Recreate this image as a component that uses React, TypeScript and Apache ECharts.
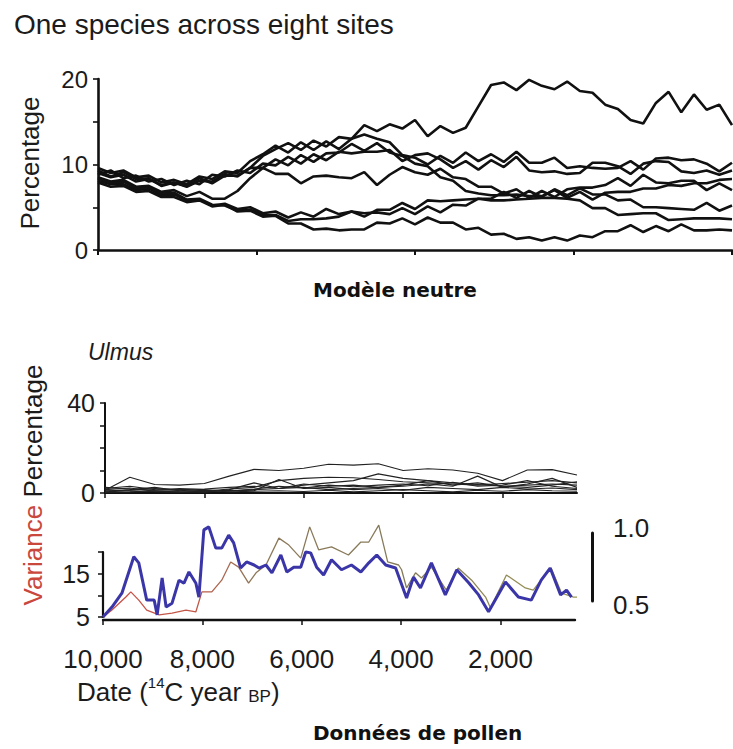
import React, { useEffect, useRef } from "react";
import * as echarts from "echarts";

// ---------- Top panel: neutral model, one species across eight sites ----------
const neutralSteps = Array.from({ length: 51 }, (_, i) => i * 2); // model time 0..100
const siteA = [9.0, 8.5, 8.8, 8.0, 8.3, 7.6, 7.9, 7.4, 8.1, 8.0, 8.9, 8.6, 9.6, 11.0, 11.8, 12.5, 11.7, 12.8, 12.1, 13.2, 13.0, 14.6, 13.9, 14.7, 14.2, 15.2, 13.3, 14.5, 13.7, 14.3, 16.8, 19.3, 19.6, 18.7, 19.9, 19.2, 18.8, 19.7, 18.6, 18.4, 17.0, 16.5, 15.2, 14.8, 17.2, 18.5, 16.1, 18.2, 16.4, 17.0, 14.6];
const siteB = [9.6, 9.0, 9.3, 8.5, 8.7, 7.9, 8.2, 7.7, 8.6, 8.3, 9.2, 9.0, 10.4, 11.2, 12.2, 11.4, 12.6, 11.7, 12.7, 11.8, 13.0, 13.5, 13.0, 12.6, 11.1, 10.8, 10.0, 11.0, 10.2, 11.4, 10.4, 11.2, 10.3, 11.5, 10.2, 10.2, 10.8, 9.6, 9.8, 9.6, 9.5, 9.6, 10.4, 9.4, 10.7, 10.8, 10.5, 10.6, 10.1, 9.2, 10.2];
const siteC = [8.8, 9.3, 8.4, 8.7, 8.0, 8.3, 7.6, 8.1, 7.7, 8.8, 8.6, 9.3, 9.0, 10.1, 9.9, 10.9, 10.1, 11.2, 10.5, 11.5, 11.3, 11.5, 11.5, 11.7, 10.4, 11.1, 11.3, 10.6, 9.6, 10.4, 9.4, 10.5, 9.7, 10.9, 9.3, 9.1, 9.2, 8.9, 9.0, 10.2, 10.2, 9.8, 8.9, 10.1, 10.4, 10.3, 9.2, 9.0, 9.3, 8.8, 9.3];
const siteD = [9.3, 8.6, 9.1, 8.3, 8.4, 7.5, 7.9, 7.5, 8.4, 7.8, 8.7, 8.7, 9.6, 9.6, 10.6, 9.9, 11.1, 10.3, 11.3, 11.4, 12.4, 11.6, 12.5, 11.4, 11.0, 10.1, 9.8, 8.5, 8.1, 6.9, 6.6, 6.4, 6.4, 6.5, 6.3, 6.3, 7.0, 6.1, 6.8, 5.9, 6.7, 6.8, 6.8, 7.2, 7.2, 7.6, 7.5, 7.8, 7.8, 8.2, 8.3];
const siteE = [8.5, 8.0, 8.2, 7.4, 7.5, 6.8, 7.0, 6.3, 6.8, 6.0, 6.0, 6.9, 8.4, 9.6, 8.9, 8.9, 7.8, 8.6, 8.7, 8.5, 8.4, 9.1, 7.6, 8.8, 9.7, 9.1, 8.8, 9.5, 8.5, 8.3, 7.4, 7.4, 6.6, 7.1, 6.1, 6.9, 6.2, 7.1, 7.3, 7.3, 7.6, 8.4, 7.5, 8.8, 7.9, 7.8, 8.1, 8.1, 7.0, 7.8, 7.0];
const siteF = [8.1, 7.7, 7.7, 7.0, 7.2, 6.4, 6.5, 5.8, 5.9, 5.2, 5.4, 4.8, 5.0, 4.3, 4.5, 3.8, 4.4, 3.9, 4.8, 4.2, 4.5, 3.9, 4.7, 4.7, 5.5, 4.8, 5.8, 5.7, 5.8, 5.9, 6.0, 6.0, 6.8, 6.1, 6.9, 6.2, 7.1, 6.4, 7.2, 6.5, 6.5, 5.8, 5.9, 5.0, 5.0, 4.9, 4.8, 4.7, 5.5, 4.6, 5.2];
const siteG = [8.4, 7.8, 8.0, 7.2, 7.3, 6.6, 6.7, 5.9, 6.0, 5.3, 5.2, 4.6, 4.7, 4.1, 4.1, 3.4, 3.6, 3.6, 3.7, 3.9, 4.5, 4.3, 4.4, 4.2, 4.9, 4.2, 5.1, 4.4, 5.3, 5.2, 6.0, 5.8, 5.8, 5.9, 6.0, 6.1, 6.1, 6.0, 5.8, 4.9, 4.9, 4.1, 4.2, 4.3, 4.3, 3.5, 3.6, 3.7, 3.7, 3.7, 3.6];
const siteH = [7.9, 7.4, 7.5, 6.8, 6.9, 6.2, 6.2, 5.6, 5.8, 5.1, 5.3, 4.5, 4.6, 3.9, 4.0, 3.1, 3.1, 2.4, 2.5, 2.3, 2.4, 2.4, 3.2, 3.1, 3.7, 3.0, 3.8, 3.2, 3.2, 2.4, 2.6, 1.8, 1.9, 1.3, 1.5, 1.1, 1.5, 1.1, 1.7, 1.5, 2.2, 2.2, 2.9, 2.1, 2.8, 2.2, 3.0, 2.3, 2.3, 2.4, 2.3];
const neutralSites = [siteA, siteB, siteC, siteD, siteE, siteF, siteG, siteH];

// ---------- Middle panel: Ulmus pollen percentage at eight sites ----------
const pollenYears = [10000, 9500, 9000, 8500, 8000, 7500, 7000, 6500, 6000, 5500, 5000, 4500, 4000, 3500, 3000, 2500, 2000, 1500, 1000, 500];
const ulmus1 = [1.2, 7.0, 3.8, 3.5, 4.2, 7.5, 10.5, 10.0, 11.0, 12.8, 12.4, 13.0, 10.0, 10.8, 10.2, 8.8, 5.5, 10.2, 10.4, 8.0];
const ulmus2 = [0.8, 1.5, 2.5, 1.0, 0.8, 1.8, 2.5, 5.5, 6.5, 7.0, 6.8, 6.0, 5.0, 4.5, 4.0, 3.5, 4.2, 4.8, 5.5, 4.5];
const ulmus3 = [2.0, 3.0, 1.5, 1.2, 0.5, 1.0, 1.5, 2.0, 3.5, 4.5, 5.5, 8.5, 6.5, 5.5, 4.5, 3.8, 3.0, 3.5, 4.0, 3.5];
const ulmus4 = [1.5, 2.2, 0.8, 0.5, 0.4, 1.5, 4.5, 2.0, 2.5, 1.5, 2.0, 2.5, 3.0, 4.0, 3.0, 7.5, 2.5, 4.0, 6.5, 2.5];
const ulmus5 = [0.5, 1.0, 0.6, 0.3, 0.8, 1.2, 1.0, 6.0, 2.0, 2.5, 1.5, 2.0, 1.2, 2.5, 2.0, 1.5, 2.5, 1.8, 2.2, 1.5];
const ulmus6 = [2.5, 1.8, 1.2, 2.0, 1.5, 0.8, 1.8, 3.0, 2.2, 3.5, 2.8, 3.5, 4.0, 3.2, 4.8, 3.0, 3.5, 5.5, 3.0, 2.0];
const ulmus7 = [0.2, 0.5, 1.0, 0.8, 1.2, 0.5, 0.8, 1.0, 0.7, 1.2, 0.5, 1.0, 1.5, 1.0, 0.5, 1.2, 0.8, 1.5, 1.0, 0.8];
const ulmus8 = [1.0, 1.2, 2.0, 1.5, 1.8, 2.5, 3.0, 2.0, 4.0, 3.0, 3.5, 2.5, 3.5, 5.5, 3.5, 4.5, 3.0, 2.5, 3.5, 5.0];
const ulmusSites = [ulmus1, ulmus2, ulmus3, ulmus4, ulmus5, ulmus6, ulmus7, ulmus8];

// ---------- Bottom panel: variance ----------
const blueYears = [10000, 9820, 9620, 9380, 9280, 9120, 8970, 8910, 8810, 8730, 8610, 8470, 8370, 8270, 8130, 8070, 7970, 7870, 7730, 7610, 7470, 7370, 7230, 7110, 6960, 6860, 6720, 6600, 6420, 6300, 6160, 6020, 5920, 5820, 5700, 5560, 5400, 5200, 5000, 4810, 4650, 4490, 4310, 4110, 3890, 3750, 3610, 3390, 3110, 2880, 2640, 2440, 2240, 1900, 1640, 1380, 1180, 1000, 790, 670, 570];
const blueValues = [5.0, 7.3, 10.5, 18.9, 17.5, 8.9, 8.9, 5.5, 14.0, 7.3, 8.2, 13.5, 12.8, 15.4, 12.8, 9.6, 25.1, 25.8, 20.9, 20.9, 23.9, 22.1, 16.3, 17.7, 17.0, 16.3, 17.0, 15.2, 19.3, 15.4, 16.5, 16.5, 20.0, 19.8, 16.5, 14.7, 18.2, 15.9, 17.0, 15.4, 17.5, 19.3, 17.0, 16.3, 9.4, 14.2, 11.7, 17.5, 10.1, 15.9, 12.9, 10.1, 6.2, 13.1, 9.6, 8.9, 13.5, 16.3, 10.1, 11.2, 9.6];
const thinYears = [10000, 9820, 9540, 9440, 9280, 9120, 8870, 8610, 8330, 8130, 8010, 7810, 7610, 7430, 7270, 7070, 6920, 6720, 6460, 6260, 6020, 5840, 5660, 5400, 5060, 4810, 4650, 4450, 4270, 4050, 3990, 3890, 3710, 3590, 3390, 3090, 2850, 2580, 2300, 2200, 1880, 1500, 1340, 1140, 980, 770, 530, 430];
const thinValues = [5.0, 6.6, 9.6, 10.8, 8.9, 6.6, 5.5, 5.9, 6.6, 6.2, 10.8, 10.8, 13.5, 17.7, 16.5, 12.8, 15.2, 17.0, 23.2, 21.6, 18.6, 25.8, 20.5, 21.2, 19.3, 22.3, 22.3, 26.2, 17.7, 17.0, 15.9, 11.7, 15.2, 14.0, 16.5, 11.2, 16.3, 13.5, 9.6, 7.1, 14.7, 11.7, 11.2, 14.2, 16.3, 10.5, 9.6, 9.6];

const dateTicks = [10000, 8000, 6000, 4000, 2000];
const scaleBarTicks = [0.5, 1.0];

const FONT = "'Liberation Sans', Arial, Helvetica, sans-serif";
const INK = "#1b1b1b";

function buildOption() {
  const zip = (xs: number[], ys: number[]) => xs.map((x, i) => [x, ys[i]]);

  const series: any[] = [];
  neutralSites.forEach((vals, k) => {
    series.push({
      type: "line",
      name: "site" + k,
      xAxisIndex: 0,
      yAxisIndex: 0,
      data: zip(neutralSteps, vals),
      showSymbol: false,
      lineStyle: { color: "#111", width: 2.6 },
      silent: true,
    });
  });
  ulmusSites.forEach((vals, k) => {
    series.push({
      type: "line",
      name: "ulmus" + k,
      xAxisIndex: 1,
      yAxisIndex: 1,
      data: zip(pollenYears, vals),
      showSymbol: false,
      lineStyle: { color: "#222", width: 1.1 },
      silent: true,
    });
  });
  series.push({
    type: "line",
    name: "variance",
    xAxisIndex: 2,
    yAxisIndex: 2,
    data: zip(thinYears, thinValues),
    showSymbol: false,
    clip: false,
    lineStyle: {
      width: 1.3,
      color: new echarts.graphic.LinearGradient(0, 0, 1, 0, [
        { offset: 0, color: "#cc4f45" },
        { offset: 0.2, color: "#c05848" },
        { offset: 0.32, color: "#8c7858" },
        { offset: 0.65, color: "#857b5a" },
        { offset: 1, color: "#9a9652" },
      ]),
    },
    silent: true,
  });
  series.push({
    type: "line",
    name: "percentage",
    xAxisIndex: 2,
    yAxisIndex: 2,
    data: zip(blueYears, blueValues),
    showSymbol: false,
    clip: false,
    lineStyle: { color: "#3b36a8", width: 3 },
    silent: true,
  });

  const dateLabel = (v: number) => v.toLocaleString("en-US");

  return {
    animation: false,
    backgroundColor: "#ffffff",
    grid: [
      { left: 98, top: 79, width: 634, height: 171 },
      { left: 105, top: 403, width: 472, height: 90 },
      { left: 103, top: 552, width: 472, height: 65 },
      { left: 592, top: 533, width: 10, height: 68 },
    ],
    xAxis: [
      {
        gridIndex: 0,
        type: "value",
        min: 0,
        max: 100,
        interval: 25,
        axisLine: { lineStyle: { color: "#111", width: 2.6 } },
        axisTick: { show: true, length: 5, lineStyle: { color: "#111", width: 2 } },
        axisLabel: { show: false },
        splitLine: { show: false },
      },
      {
        gridIndex: 1,
        type: "value",
        min: 500,
        max: 10000,
        inverse: true,
        offset: 4,
        axisLine: { lineStyle: { color: "#111", width: 2 } },
        axisTick: { show: true, length: 5, customValues: dateTicks, lineStyle: { color: "#111", width: 1.5 } },
        axisLabel: { show: false },
        splitLine: { show: false },
      },
      {
        gridIndex: 2,
        type: "value",
        min: 500,
        max: 10000,
        inverse: true,
        offset: 3,
        axisLine: { lineStyle: { color: "#111", width: 2.4 } },
        axisTick: { show: true, length: 5, customValues: dateTicks, lineStyle: { color: "#111", width: 1.5 } },
        axisLabel: {
          show: true,
          customValues: dateTicks,
          formatter: dateLabel,
          margin: 26,
          fontSize: 26,
          fontFamily: FONT,
          color: INK,
        },
        splitLine: { show: false },
      },
      {
        gridIndex: 3,
        type: "value",
        min: 0,
        max: 1,
        show: false,
      },
    ],
    yAxis: [
      {
        gridIndex: 0,
        type: "value",
        min: 0,
        max: 20,
        interval: 5,
        axisLine: { show: true, lineStyle: { color: "#111", width: 2.6 } },
        axisTick: { show: true, length: 5, lineStyle: { color: "#111", width: 1.6 } },
        axisLabel: {
          formatter: (v: number) => (v % 10 === 0 ? String(v) : ""),
          margin: 10,
          fontSize: 24,
          fontFamily: FONT,
          color: INK,
        },
        splitLine: { show: false },
      },
      {
        gridIndex: 1,
        type: "value",
        min: 0,
        max: 40,
        interval: 10,
        axisLine: { show: true, lineStyle: { color: "#111", width: 2 } },
        axisTick: { show: true, length: 5, lineStyle: { color: "#111", width: 1.5 } },
        axisLabel: {
          formatter: (v: number) => (v === 0 || v === 40 ? String(v) : ""),
          margin: 10,
          fontSize: 25,
          fontFamily: FONT,
          color: INK,
        },
        splitLine: { show: false },
      },
      {
        gridIndex: 2,
        type: "value",
        min: 5,
        max: 20,
        interval: 5,
        axisLine: { show: true, lineStyle: { color: "#111", width: 2.2 } },
        axisTick: { show: true, length: 5, lineStyle: { color: "#111", width: 1.5 } },
        axisLabel: {
          formatter: (v: number) => (v === 5 || v === 15 ? String(v) : ""),
          margin: 13,
          fontSize: 25,
          fontFamily: FONT,
          color: INK,
        },
        splitLine: { show: false },
      },
      {
        gridIndex: 3,
        type: "value",
        min: 0.5,
        max: 1.0,
        interval: 0.5,
        axisLine: { show: true, lineStyle: { color: "#111", width: 3 } },
        axisTick: { show: false },
        axisLabel: {
          inside: true,
          customValues: scaleBarTicks,
          formatter: (v: number) => (v >= 1 ? "{t|" + v.toFixed(1) + "}" : "{b|" + v.toFixed(1) + "}"),
          margin: 21,
          fontSize: 26,
          fontFamily: FONT,
          color: INK,
          rich: {
            t: { fontSize: 26, fontFamily: FONT, color: INK, padding: [0, 0, 10, 0] },
            b: { fontSize: 26, fontFamily: FONT, color: INK, padding: [8, 0, 0, 0] },
          },
        },
        splitLine: { show: false },
      },
    ],
    graphic: [
      {
        type: "text",
        x: 14,
        y: 24,
        style: {
          text: "One species across eight sites",
          font: `28px ${FONT}`,
          fill: INK,
          align: "left",
          verticalAlign: "middle",
        },
      },
      {
        type: "text",
        x: 30,
        y: 163,
        rotation: Math.PI / 2,
        style: {
          text: "Percentage",
          font: `26px ${FONT}`,
          fill: INK,
          align: "center",
          verticalAlign: "middle",
        },
      },
      {
        type: "text",
        x: 313,
        y: 290,
        style: {
          text: "Modèle neutre",
          font: `bold 20px 'DejaVu Sans', sans-serif`,
          fill: "#111",
          align: "left",
          verticalAlign: "middle",
        },
      },
      {
        type: "text",
        x: 88,
        y: 352,
        style: {
          text: "Ulmus",
          font: `italic 23px ${FONT}`,
          fill: INK,
          align: "left",
          verticalAlign: "middle",
        },
      },
      {
        type: "text",
        x: 33,
        y: 485,
        rotation: Math.PI / 2,
        style: {
          text: "{v|Variance} {p|Percentage}",
          font: `26px ${FONT}`,
          fill: INK,
          align: "center",
          verticalAlign: "middle",
          rich: {
            v: { fill: "#c9473d", fontSize: 26, fontFamily: FONT },
            p: { fill: INK, fontSize: 26, fontFamily: FONT },
          },
        },
      },
      {
        type: "text",
        x: 77,
        y: 690,
        style: {
          text: "{a|Date (}{s|14}{a|C year }{c|BP}{a|)}",
          font: `26px ${FONT}`,
          fill: INK,
          align: "left",
          verticalAlign: "middle",
          rich: {
            a: { fontSize: 26, fontFamily: FONT, fill: INK, lineHeight: 30, verticalAlign: "bottom" },
            s: { fontSize: 15, fontFamily: FONT, fill: INK, lineHeight: 30, verticalAlign: "top" },
            c: { fontSize: 17, fontFamily: FONT, fill: INK, lineHeight: 28, verticalAlign: "bottom" },
          },
        },
      },
      {
        type: "text",
        x: 313,
        y: 733,
        style: {
          text: "Données de pollen",
          font: `bold 20px 'DejaVu Sans', sans-serif`,
          fill: "#111",
          align: "left",
          verticalAlign: "middle",
        },
      },
    ],
    series,
  };
}

export default function App() {
  const ref = useRef<HTMLDivElement>(null);
  useEffect(() => {
    if (!ref.current) return;
    const chart = echarts.init(ref.current, undefined, { renderer: "svg" });
    chart.setOption(buildOption() as any);
    return () => chart.dispose();
  }, []);
  return (
    <div
      ref={ref}
      style={{ position: "fixed", left: 0, top: 0, width: 733, height: 749, background: "#fff" }}
    />
  );
}
